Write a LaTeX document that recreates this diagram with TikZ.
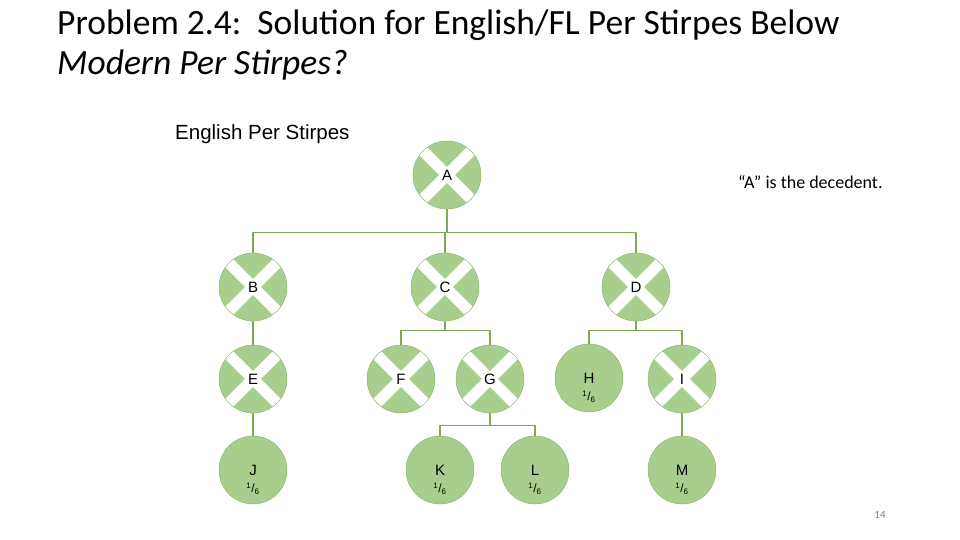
\documentclass[tikz,border=0pt]{standalone}
\usepackage{fontspec}
\setmainfont{Carlito}
\newfontfamily\arialfont{Liberation Sans}
\definecolor{leaf}{RGB}{168,206,142}
\definecolor{leafrim}{RGB}{135,175,105}
\definecolor{branch}{RGB}{125,170,80}
\newcommand{\sixth}{\textsuperscript{1}/\textsubscript{6}}
\begin{document}
\begin{tikzpicture}[x=1pt, y=-1pt, line join=round,
	heir/.style={circle, draw=leafrim, fill=leaf, minimum size=68pt, inner sep=0pt, font=\arialfont\fontsize{15}{16}\selectfont},
	share/.style={heir, label={[yshift=-19pt, inner sep=0pt, font=\arialfont\fontsize{12}{13}\selectfont]center:\sixth}},
	dead/.style={heir, path picture={
		\draw[white, line width=11pt] (path picture bounding box.north west) -- (path picture bounding box.south east);
		\draw[white, line width=11pt] (path picture bounding box.north east) -- (path picture bounding box.south west);}},
	link/.style={draw=branch, line width=1.2pt}]
	\useasboundingbox (0,0) rectangle (960,540);
	% titles
	\node[anchor=base west, inner sep=0pt, font=\fontsize{35.5}{38}\selectfont] (title) at (57,35) {Problem 2.4:\ \ Solution for English/FL Per Stirpes Below};
	\node[anchor=base west, inner sep=0pt, font=\fontsize{35.5}{38}\selectfont\itshape] (subtitle) at (57,75) {Modern Per Stirpes?};
	\node[anchor=base west, inner sep=0pt, font=\arialfont\fontsize{20.5}{22}\selectfont] (heading) at (175,140) {English Per Stirpes};
	\node[anchor=base west, inner sep=0pt, font=\fontsize{18}{20}\selectfont] (note) at (738,189) {``A'' is the decedent.};
	\node[anchor=base, inner sep=0pt, font=\fontsize{11}{12}\selectfont, text=gray] (page) at (880,518) {14};
	% the family
	\node[dead] (A) at (447,175) {A};
	\node[dead] (B) at (253,287) {B};
	\node[dead] (C) at (445,287) {C};
	\node[dead] (D) at (636,287) {D};
	\node[dead] (E) at (253,379) {E};
	\node[dead] (F) at (401,379) {F};
	\node[dead] (G) at (490,379) {G};
	\node[share] (H) at (589,378) {H};
	\node[dead] (I) at (682,379) {I};
	\node[share] (J) at (253,470) {J};
	\node[share] (K) at (440,470) {K};
	\node[share] (L) at (535,470) {L};
	\node[share] (M) at (682,470) {M};
	% branches
	\path (A.south) ++(0,23) coordinate (a1);
	\path (C.south) ++(0,9) coordinate (c1);
	\path (D.south) ++(0,9) coordinate (d1);
	\path (G.south) ++(0,12) coordinate (g1);
	\draw[link] (A.south) -- (a1);
	\draw[link] (B.north) |- (a1) -| (D.north);
	\draw[link] (C.north) -- (C.north |- a1);
	\draw[link] (C.south) -- (c1);
	\draw[link] (F.north) |- (c1) -| (G.north);
	\draw[link] (D.south) -- (d1);
	\draw[link] (H.north) |- (d1) -| (I.north);
	\draw[link] (G.south) -- (g1);
	\draw[link] (K.north) |- (g1) -| (L.north);
	\draw[link] (B.south) -- (E.north);
	\draw[link] (E.south) -- (J.north);
	\draw[link] (I.south) -- (M.north);
\end{tikzpicture}
\end{document}
